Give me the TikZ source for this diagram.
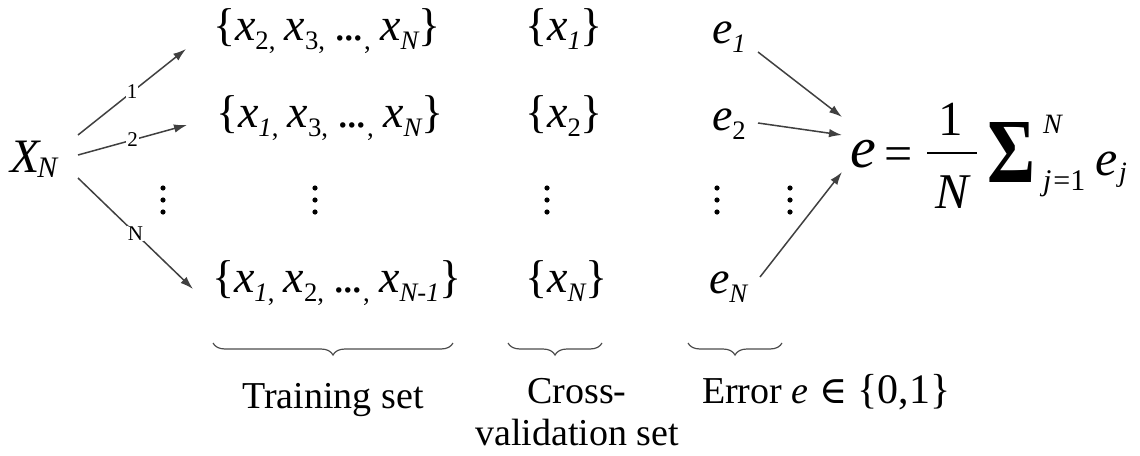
\documentclass[tikz,border=0pt]{standalone}
\usepackage{graphicx}
\usepackage{fontspec}
\setmainfont{Liberation Serif}
\newfontfamily\symf{DejaVu Serif}
\usetikzlibrary{arrows.meta,decorations.pathreplacing}
\newcommand{\fs}[1]{\fontsize{#1}{#1}\selectfont}
\newcommand{\vi}[1]{{\itshape #1}}
\newcommand{\sbu}[1]{\raisebox{-0.2em}{\scalebox{0.58}{#1}}}
\newcommand{\eld}{.\kern-0.05em.\kern-0.05em.}
\newcommand{\gp}{\hspace{0.2em}}
\tikzset{
  txt/.style={anchor=base west, inner sep=0pt, outer sep=0pt},
  setf/.style={txt, font=\fs{46}},
  arr/.style={draw=black!75, line width=1.5pt, -{Latex[length=13pt,width=8.5pt]}},
  lbl/.style={fill=white, inner sep=1pt, font=\fs{21}},
  brc/.style={draw=black!70, line width=1.2pt, decorate, decoration={brace, mirror, amplitude=12pt}},
  dotc/.style={fill=black}
}
\begin{document}
\begin{tikzpicture}[x=1pt, y=-1pt]
\useasboundingbox (0,0) rectangle (1140,455);

% source
\node[txt, font=\fs{48}] (XN) at (10,172) {\vi{X}\kern-2pt\raisebox{-5pt}{\scalebox{0.62}{\vi{N}}}};

% training sets
\node[setf] (t1) at (213,40) {\{\vi{x}\sbu{2,}\gp\vi{x}\sbu{3,}\gp\eld\sbu{,}\gp\vi{x}\sbu{\vi{N}}\}};
\node[setf] (t2) at (216,127) {\{\vi{x}\sbu{\vi{1},}\gp\vi{x}\sbu{3,}\gp\eld\sbu{,}\gp\vi{x}\sbu{\vi{N}}\}};
\node[setf] (tN) at (212,292) {\{\vi{x}\sbu{\vi{1},}\gp\vi{x}\sbu{2,}\gp\eld\sbu{,}\gp\vi{x}\sbu{\vi{N-1}}\}};

% validation sets
\node[setf] (v1) at (525,40) {\{\vi{x}\sbu{\vi{1}}\}};
\node[setf] (v2) at (525,127) {\{\vi{x}\sbu{2}\}};
\node[setf] (vN) at (525,292) {\{\vi{x}\sbu{\vi{N}}\}};

% errors
\node[setf, font=\fs{46}] (e1) at (712,43) {\vi{e}\sbu{\vi{1}}};
\node[setf, font=\fs{46}] (e2) at (712,130) {\vi{e}\sbu{2}};
\node[setf, font=\fs{46}] (eN) at (709,293) {\vi{e}\sbu{\vi{N}}};

% formula
\node[txt, font=\fs{58}] (fe) at (850,167) {\vi{e}};
\node[txt, font=\fs{50}] (feq) at (884,170) {=};
\draw[line width=2pt] (927,153) coordinate (fb1) -- (977,153) coordinate (fb2);
\node[anchor=base, inner sep=0pt, font=\fs{49}] (fone) at (951,135) {1};
\node[anchor=base, inner sep=0pt, font=\fs{50}] (fN) at (952,208) {\vi{N}};
\node[anchor=south west, inner sep=0pt] (fsum) at (987,183) {\resizebox{48pt}{60pt}{\bfseries Σ}};
\node[txt, font=\fs{28}] (fup) at (1043,133) {\vi{N}};
\node[txt, font=\fs{30}] (flo) at (1043,190) {\vi{j}\kern2pt=1};
\node[txt, font=\fs{50}] (fej) at (1095,175) {\vi{e}};
\node[txt, font=\fs{28}] (fj) at (1119,181) {\vi{j}};

% arrows from X_N
\coordinate (s1) at (78,135);
\coordinate (s2) at (78,155);
\coordinate (s3) at (78,178);
\coordinate (a1) at (186,49);
\coordinate (a2) at (187,125);
\coordinate (a3) at (193,289);
\draw[arr] (s1) -- node[lbl, pos=0.5] (l1) {1} (a1);
\draw[arr] (s2) -- node[lbl, pos=0.5] (l2) {2} (a2);
\draw[arr] (s3) -- node[lbl, pos=0.5] (l3) {N} (a3);

% arrows to formula
\coordinate (b1) at (758,52);
\coordinate (b2) at (758,123);
\coordinate (b3) at (760,277);
\coordinate (c1) at (842,117);
\coordinate (c2) at (842,135);
\coordinate (c3) at (842,172);
\draw[arr] (b1) -- (c1);
\draw[arr] (b2) -- (c2);
\draw[arr] (b3) -- (c3);

% vertical dots
\foreach \x in {163,315,547,717,790}
  \foreach \y in {188,200,212}
    \fill[dotc] (\x,\y) circle (2.6);

% bottom braces
\draw[brc] (213,343) -- (453,343);
\draw[brc] (508,343) -- (602,343);
\draw[brc] (688,343) -- (782,343);

% labels
\node[anchor=base, inner sep=0pt, font=\fs{38}] (ltr) at (333,408) {Training set};
\node[anchor=base, inner sep=0pt, font=\fs{38}] (lcv1) at (577,403) {Cross-};
\node[anchor=base, inner sep=0pt, font=\fs{38}] (lcv2) at (577,445) {validation set};
\node[txt, font=\fs{38}] (ler) at (702,403) {Error \vi{e}\hspace{0.3em}{\symf ∈}\hspace{0.25em}{\fs{42}\{0,1\}}};
\end{tikzpicture}
\end{document}
